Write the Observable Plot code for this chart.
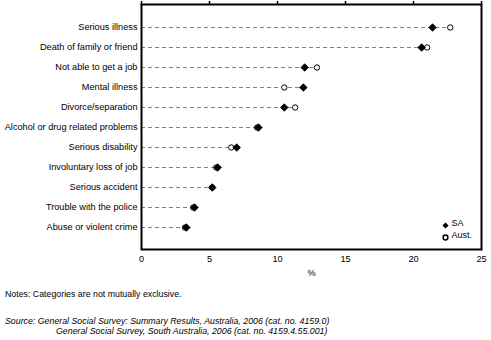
<!DOCTYPE html>
<html><head><meta charset="utf-8">
<script src="https://cdn.jsdelivr.net/npm/d3@7"></script>
<script src="https://cdn.jsdelivr.net/npm/@observablehq/plot@0.6"></script>
<style>
body{margin:0;background:#fff;font-family:"Liberation Sans",Arial,sans-serif;}
#chart svg{display:block;}
.notes{font-size:8.8px;color:#000;position:absolute;left:5px;}
</style></head>
<body>
<div id="chart"></div>
<div class="notes" style="top:289px">Notes: Categories are not mutually exclusive.</div>
<div class="notes" style="top:316px;font-style:italic;line-height:10px">Source: General Social Survey: Summary Results, Australia, 2006 (cat. no. 4159.0)<br><span style="padding-left:51px">General Social Survey, South Australia, 2006 (cat. no. 4159.4.55.001)</span></div>
<script>
const categories = ["Serious illness","Death of family or friend","Not able to get a job","Mental illness","Divorce/separation","Alcohol or drug related problems","Serious disability","Involuntary loss of job","Serious accident","Trouble with the police","Abuse or violent crime"];
const sa   = [21.4, 20.6, 12.0, 11.9, 10.5, 8.6, 7.0, 5.6, 5.2, 3.9, 3.3];
const aust = [22.7, 21.0, 12.9, 10.5, 11.3, 8.5, 6.6, 5.5, 5.2, 3.8, 3.2];
const xTicks = [0, 5, 10, 15, 20, 25];
const seriesNames = ["SA", "Aust."];

const rows = categories.map((c, i) => ({cat: c, sa: sa[i], aust: aust[i], max: Math.max(sa[i], aust[i])}));

const plot = Plot.plot({
  width: 491, height: 285,
  marginLeft: 141, marginRight: 10, marginTop: 4, marginBottom: 36,
  style: {fontFamily: "Liberation Sans, Arial, sans-serif", fontSize: "9.2px"},
  x: {domain: [0, 25], ticks: xTicks, label: null},
  y: {type: "point", domain: categories, padding: 1, label: null},
  marks: [
    Plot.ruleY(rows, {y: "cat", x1: 0, x2: "max", stroke: "#808080", strokeDasharray: "4,3", strokeWidth: 1}),
    Plot.dot(rows, {x: "aust", y: "cat", symbol: "circle", r: 2.7, stroke: "#000", fill: "#fff", strokeWidth: 1}),
    Plot.dot(rows, {x: "sa", y: "cat", symbol: "diamond2", r: 3.4, fill: "#000", stroke: "#000", strokeWidth: 0.8}),
    Plot.frame({stroke: "#000", strokeWidth: 2}),
    Plot.tickX(xTicks, {x: d => d, stroke: "#000", strokeWidth: 1.5, insetTop: -3, insetBottom: 244}),
    Plot.axisX({anchor: "bottom", ticks: xTicks, tickSize: 0, tickPadding: 6, label: "%", labelAnchor: "center", labelArrow: "none", labelOffset: 26}),
    Plot.axisY({tickSize: 0, tickPadding: 4, label: null}),
    Plot.dot([seriesNames[0]], {frameAnchor: "bottom-right", dx: -36, dy: -24, symbol: "diamond2", r: 2.8, fill: "#000"}),
    Plot.dot([seriesNames[1]], {frameAnchor: "bottom-right", dx: -36, dy: -12, symbol: "circle", r: 2.4, stroke: "#000", fill: "#fff"}),
    Plot.text([seriesNames[0]], {frameAnchor: "bottom-right", dx: -30, dy: -24, text: d => d, textAnchor: "start", fontSize: 9}),
    Plot.text([seriesNames[1]], {frameAnchor: "bottom-right", dx: -30, dy: -12, text: d => d, textAnchor: "start", fontSize: 9})
  ]
});
document.getElementById("chart").appendChild(plot);
</script>
</body></html>
